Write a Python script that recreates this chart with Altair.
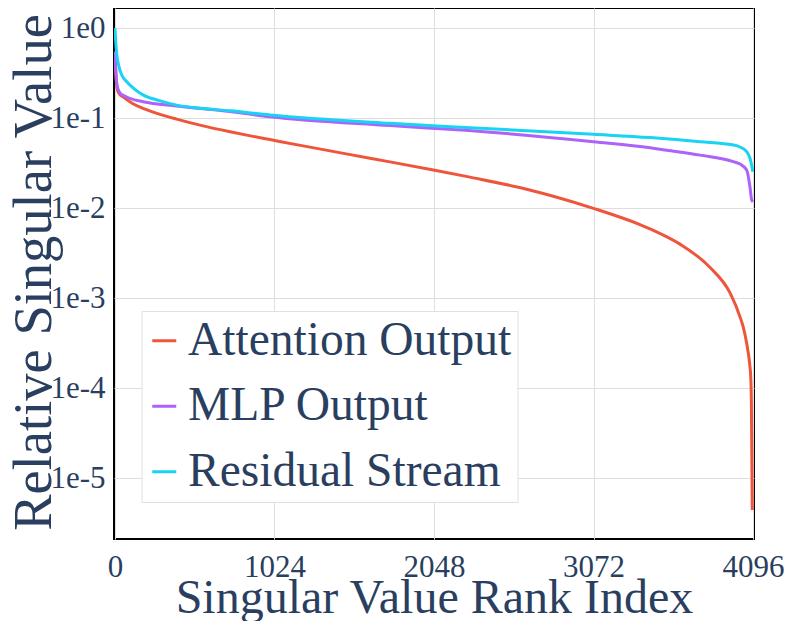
import altair as alt
import pandas as pd

series_names = ["Attention Output", "MLP Output", "Residual Stream"]
series_colors = ["#EF553B", "#AB63FA", "#19D3F3"]

att_rank = [0, 3, 8, 15, 30, 54, 110, 180, 280, 396, 546, 739, 870, 995, 1190, 1637, 2044, 2279,
            2643, 3071, 3370, 3456, 3627, 3820, 3949, 4012, 4033, 4055, 4076, 4081, 4085, 4088, 4091]
att_val = [0.55, 0.40, 0.27, 0.21, 0.185, 0.172, 0.147, 0.129, 0.112, 0.098, 0.084, 0.0708, 0.0638,
           0.058, 0.050, 0.036, 0.0267, 0.0222, 0.0163, 0.010, 0.0066, 0.0057, 0.0040, 0.0022,
           0.00114, 6.25e-4, 4.8e-4, 3.16e-4, 1.74e-4, 1.35e-4, 7.4e-5, 2.0e-5, 4.45e-6]

mlp_rank = [0, 4, 10, 20, 40, 54, 100, 180, 396, 739, 995, 1766, 2250, 3071, 3435, 3499,
            3756, 3969, 4012, 4055, 4076, 4087, 4095]
mlp_val = [0.55, 0.38, 0.26, 0.21, 0.185, 0.18, 0.165, 0.153, 0.137, 0.119, 0.104, 0.083, 0.0735,
           0.055, 0.0471, 0.0453, 0.039, 0.033, 0.031, 0.0267, 0.0174, 0.0124, 0.0118]

res_rank = [0, 4, 11, 25, 45, 76, 120, 180, 280, 396, 550, 739, 995, 1766, 2250, 3071, 3435,
            3756, 3969, 4012, 4055, 4076, 4093, 4095]
res_val = [1.0, 0.75, 0.53, 0.38, 0.30, 0.255, 0.215, 0.182, 0.158, 0.14, 0.129, 0.121, 0.109,
           0.088, 0.079, 0.0664, 0.061, 0.055, 0.0505, 0.048, 0.0426, 0.036, 0.0267, 0.0255]

x_ticks = [0, 1024, 2048, 3072, 4096]
y_ticks = [1e-5, 1e-4, 1e-3, 1e-2, 1e-1, 1e0]

rows = []
for name, rk, vl in zip(series_names, [att_rank, mlp_rank, res_rank], [att_val, mlp_val, res_val]):
    for r, v in zip(rk, vl):
        rows.append({"series": name, "rank": r, "value": v})
df = pd.DataFrame(rows)

FONT = "Liberation Serif"
TXT = "#2a3f5f"

chart = alt.Chart(df).mark_line(strokeWidth=3, interpolate="monotone", clip=True).encode(
    x=alt.X("rank:Q",
            scale=alt.Scale(domain=[-6, 4102], nice=False, zero=False),
            axis=alt.Axis(title="Singular Value Rank Index", values=x_ticks, format="d",
                          labelFontSize=31, titleFontSize=48, labelPadding=37,
                          labelBaseline="alphabetic", titleBaseline="alphabetic",
                          titleY=73, labelFlush=False)),
    y=alt.Y("value:Q",
            scale=alt.Scale(type="log", domain=[2.12e-6, 1.68], nice=False),
            axis=alt.Axis(title="Relative Singular Value", values=y_ticks,
                          labelExpr="'1e' + round(log(datum.value) / log(10))",
                          labelFontSize=31, titleFontSize=54.5, labelPadding=9,
                          labelBaseline="middle", titleBaseline="alphabetic",
                          titleAngle=270, titleX=-64, titleY=264, titleAlign="center")),
    color=alt.Color("series:N",
                    scale=alt.Scale(domain=series_names, range=series_colors),
                    legend=alt.Legend(orient="none", legendX=27.5, legendY=303, title=None,
                                      symbolType="stroke", symbolSize=576, symbolStrokeWidth=3,
                                      symbolOffset=-7,
                                      labelFontSize=47.5, labelFont=FONT, labelColor=TXT,
                                      rowPadding=16.5, padding=6, fillColor="white",
                                      strokeColor="#e0e0e0", labelOffset=0, labelLimit=600)),
    order=alt.Order("rank:Q"),
).properties(
    width=640, height=531,
    autosize=alt.AutoSizeParams(type="none"),
    padding={"left": 106, "top": 0, "right": 31, "bottom": 82},
).configure_view(
    stroke="black", strokeWidth=2
).configure_axis(
    labelFont=FONT, titleFont=FONT, labelColor=TXT, titleColor=TXT,
    titleFontWeight="normal", domain=False, ticks=False, tickSize=0,
    gridColor="#dedede", gridWidth=1
)

chart.save("out.html", embed_options={"renderer": "svg", "actions": False})
